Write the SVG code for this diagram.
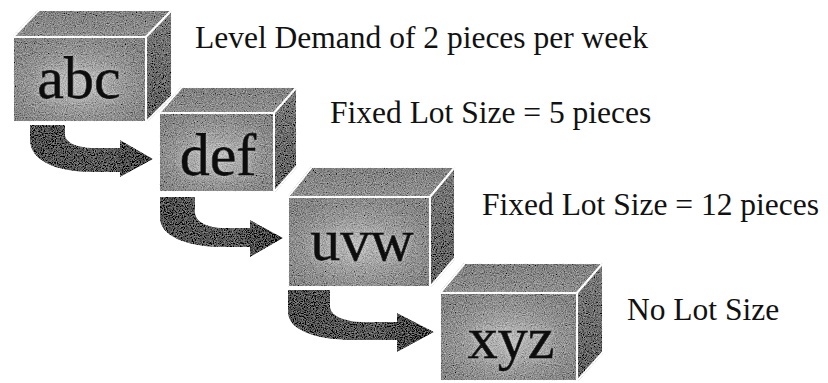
<svg xmlns="http://www.w3.org/2000/svg" width="828" height="383" viewBox="0 0 828 383">
<style>
.front{fill:url(#gFront);stroke:#fff;stroke-width:2;stroke-linejoin:round}
.top{fill:url(#gTop);stroke:#fff;stroke-width:2;stroke-linejoin:round}
.side{fill:url(#gSide);stroke:#fff;stroke-width:2;stroke-linejoin:round}
.box{filter:url(#grain)}
.name{font-family:"Liberation Serif","Times New Roman",serif;font-size:60px;fill:#111;stroke:#111;stroke-width:0.8;text-anchor:middle;filter:url(#glow)}
.label{font-family:"Liberation Serif","Times New Roman",serif;font-size:31.5px;fill:#111}
.arrow{fill:url(#gArrow);filter:url(#grain)}
</style>
<defs>
<radialGradient id="gFront" cx="0.5" cy="0.55" r="0.6">
<stop offset="0" stop-color="#b8b8b8"/>
<stop offset="0.6" stop-color="#959595"/>
<stop offset="1" stop-color="#848484"/>
</radialGradient>
<linearGradient id="gTop" x1="0" y1="0" x2="0" y2="1">
<stop offset="0" stop-color="#808080"/>
<stop offset="1" stop-color="#909090"/>
</linearGradient>
<linearGradient id="gSide" x1="0" y1="0" x2="0" y2="1">
<stop offset="0" stop-color="#7a7a7a"/>
<stop offset="1" stop-color="#5e5e5e"/>
</linearGradient>
<linearGradient id="gArrow" x1="0" y1="0" x2="1" y2="0">
<stop offset="0" stop-color="#505050"/>
<stop offset="0.6" stop-color="#5a5a5a"/>
<stop offset="1" stop-color="#3e3e3e"/>
</linearGradient>
<filter id="grain" x="0" y="0" width="1" height="1">
<feTurbulence type="fractalNoise" baseFrequency="0.9" numOctaves="2" seed="4" result="n"/>
<feColorMatrix in="n" type="matrix" values="0.6 0.6 0.6 0 -0.4  0.6 0.6 0.6 0 -0.4  0.6 0.6 0.6 0 -0.4  0 0 0 0 1" result="g"/>
<feComposite in="SourceGraphic" in2="g" operator="arithmetic" k1="0" k2="1" k3="0.6" k4="-0.3" result="m"/>
<feComposite in="m" in2="SourceGraphic" operator="in"/>
</filter>
<filter id="glow" x="-10%" y="-10%" width="120%" height="120%">
<feGaussianBlur in="SourceAlpha" stdDeviation="3" result="b"/>
<feFlood flood-color="#e0e0e0" flood-opacity="0.6"/>
<feComposite in2="b" operator="in" result="w"/>
<feMerge><feMergeNode in="w"/><feMergeNode in="SourceGraphic"/></feMerge>
</filter>
</defs>

<g id="connectors">
<path class="arrow" d="M30,125 H65 V134 C65,143 78,148 95,148 H120 V140 L153,159 L120,177 V172 H92 C55,172 30,160 30,140 Z"/>
<path class="arrow" d="M160,197 H195 V212 C195,222 208,228 225,228 H250 V220 L283,238 L250,257 V247 H222 C185,247 160,235 160,218 Z"/>
<path class="arrow" d="M288,290 H330 V306 C330,316 345,322 365,322 H397 V313 L434,332 L397,352 V340 H355 C315,340 288,330 288,312 Z"/>
</g>

<g id="node-abc">
<g class="box">
<polygon class="top" points="13,37 39,10 172,10 146,37"/>
<polygon class="side" points="146,37 172,10 172,96 146,122"/>
<rect class="front" x="13" y="37" width="133" height="85"/>
</g>
<text class="name" x="79" y="98">abc</text>
</g>

<g id="node-def">
<g class="box">
<polygon class="top" points="159,113 182,87 297,87 274,113"/>
<polygon class="side" points="274,113 297,87 297,166 274,192"/>
<rect class="front" x="159" y="113" width="115" height="79"/>
</g>
<text class="name" x="218" y="175">def</text>
</g>

<g id="node-uvw">
<g class="box">
<polygon class="top" points="288,197 312,167 455,167 430,197"/>
<polygon class="side" points="430,197 455,167 455,258 430,287"/>
<rect class="front" x="288" y="197" width="142" height="90"/>
</g>
<text class="name" x="362" y="260">uvw</text>
</g>

<g id="node-xyz">
<g class="box">
<polygon class="top" points="440,293 465,263 603,263 577,293"/>
<polygon class="side" points="577,293 603,263 603,352 577,381"/>
<rect class="front" x="440" y="293" width="137" height="88"/>
</g>
<text class="name" x="511" y="358">xyz</text>
</g>

<g id="labels">
<text class="label" x="195" y="48">Level Demand of 2 pieces per week</text>
<text class="label" x="330" y="123">Fixed Lot Size = 5 pieces</text>
<text class="label" x="482" y="215">Fixed Lot Size = 12 pieces</text>
<text class="label" x="627" y="320">No Lot Size</text>
</g>
</svg>
